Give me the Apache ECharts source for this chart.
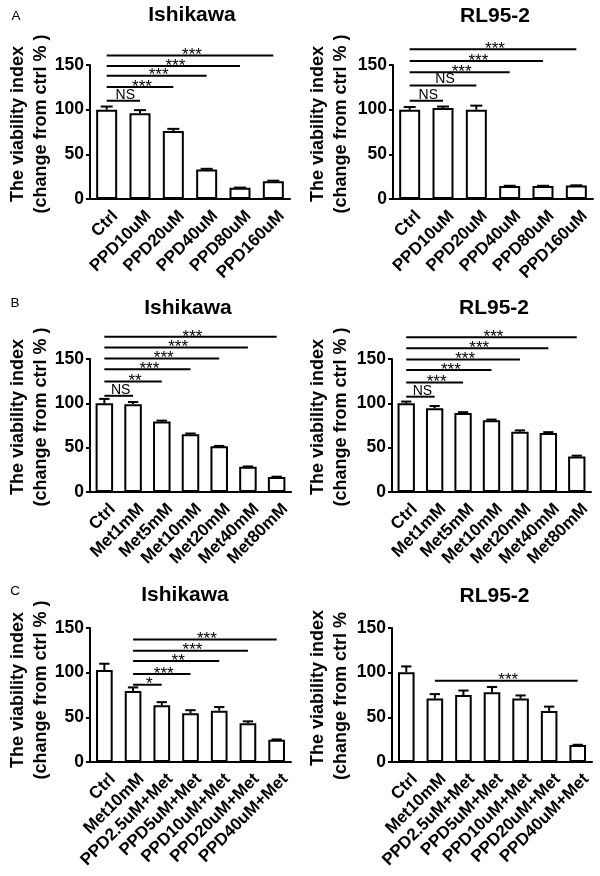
<!DOCTYPE html>
<html><head><meta charset="utf-8">
<script src="https://cdn.jsdelivr.net/npm/echarts@6/dist/echarts.min.js"></script>
<style>html,body{margin:0;padding:0;background:#fff}#c{width:600px;height:876px}</style>
</head><body><div id="c"></div>
<script>
// ---- categories ----
const catsA = ['Ctrl','PPD10uM','PPD20uM','PPD40uM','PPD80uM','PPD160uM'];
const catsB = ['Ctrl','Met1mM','Met5mM','Met10mM','Met20mM','Met40mM','Met80mM'];
const catsC = ['Ctrl','Met10mM','PPD2.5uM+Met','PPD5uM+Met','PPD10uM+Met','PPD20uM+Met','PPD40uM+Met'];
// ---- values (mean, SEM) ----
const aIshMean = [100, 96, 76, 33, 12.5, 20];
const aIshErr  = [3.5, 3.5, 2.5, 0.8, 0.3, 0.5];
const aRlMean  = [100, 102, 100, 14.5, 14.5, 15];
const aRlErr   = [3, 1.5, 4.5, 0.3, 0.3, 0.3];
const bIshMean = [100, 99, 79.5, 65, 51.5, 28.5, 17];
const bIshErr  = [5, 2.5, 1, 1, 0.5, 0.3, 0.3];
const bRlMean  = [100, 94.5, 89, 81, 68, 66.5, 40];
const bRlErr   = [2, 2.5, 1, 0.7, 1.5, 1, 1];
const cIshMean = [103, 79.5, 63.5, 54.5, 57.5, 43.5, 25];
const cIshErr  = [7, 4, 3.5, 3.5, 4, 2, 0.3];
const cRlMean  = [100.5, 71, 75, 78, 71, 57, 19];
const cRlErr   = [6.5, 5, 5, 6, 3.5, 5, 0.3];
// ---- significance brackets: [fromIndex, toIndex, yValue] + labels ----
const sigAIsh = [[0,1,110],[0,2,125.5],[0,3,138],[0,4,149],[0,5,160.5]];
const sigAIshLab = ['NS','***','***','***','***'];
const sigARl = [[0,1,110],[0,2,127],[0,3,142],[0,4,154.5],[0,5,167.5]];
const sigARlLab = ['NS','NS','***','***','***'];
const sigBIsh = [[0,1,108.5],[0,2,124.5],[0,3,138.5],[0,4,150.5],[0,5,163],[0,6,175]];
const sigBIshLab = ['NS','**','***','***','***','***'];
const sigBRl = [[0,1,107.5],[0,2,123.5],[0,3,137.5],[0,4,149.5],[0,5,162],[0,6,174.5]];
const sigBRlLab = ['NS','***','***','***','***','***'];
const sigCIsh = [[1,2,86.5],[1,3,98.5],[1,4,113],[1,5,124.5],[1,6,137]];
const sigCIshLab = ['*','***','**','***','***'];
const sigCRl = [[1,6,91]];
const sigCRlLab = ['***'];
// ---- axis ticks ----
const yMin = 0, yMax = 150, yStep = 50;

const FONT = "'Liberation Sans', Arial, sans-serif";

const panels = [
  {cats: catsA, mean: aIshMean, err: aIshErr, sig: sigAIsh, lab: sigAIshLab, grid: {left: 90, top: 65, width: 200, height: 134}, bw: '63%'},
  {cats: catsA, mean: aRlMean, err: aRlErr, sig: sigARl, lab: sigARlLab, grid: {left: 393, top: 65, width: 200, height: 134}, bw: '63%'},
  {cats: catsB, mean: bIshMean, err: bIshErr, sig: sigBIsh, lab: sigBIshLab, grid: {left: 90, top: 359, width: 201, height: 133}, bw: '61%'},
  {cats: catsB, mean: bRlMean, err: bRlErr, sig: sigBRl, lab: sigBRlLab, grid: {left: 392, top: 359, width: 199, height: 133}, bw: '61%'},
  {cats: catsC, mean: cIshMean, err: cIshErr, sig: sigCIsh, lab: sigCIshLab, grid: {left: 90, top: 628, width: 201, height: 134}, bw: '58%'},
  {cats: catsC, mean: cRlMean, err: cRlErr, sig: sigCRl, lab: sigCRlLab, grid: {left: 392, top: 628, width: 200, height: 134}, bw: '58%'}
];

const grids = [], xAxes = [], yAxes = [], series = [];
panels.forEach((p, k) => {
  grids.push(Object.assign({containLabel: false}, p.grid));
  xAxes.push({
    type: 'category', gridIndex: k, data: p.cats,
    axisLine: {lineStyle: {color: '#000', width: 2}},
    axisTick: {alignWithLabel: true, length: 5, lineStyle: {color: '#000', width: 2}},
    axisLabel: {interval: 0, rotate: 45, color: '#000', fontFamily: FONT, fontWeight: 'bold', fontSize: 17,
      margin: 6, verticalAlign: 'top', lineHeight: 24}
  });
  yAxes.push({
    type: 'value', gridIndex: k, min: yMin, max: yMax, interval: yStep,
    splitLine: {show: false},
    axisLine: {show: true, lineStyle: {color: '#000', width: 2}},
    axisTick: {show: true, length: 4, lineStyle: {color: '#000', width: 2}},
    axisLabel: {color: '#000', fontFamily: FONT, fontWeight: 'bold', fontSize: 17.5, margin: 6}
  });
  series.push({
    type: 'bar', xAxisIndex: k, yAxisIndex: k, data: p.mean, barWidth: p.bw,
    itemStyle: {color: '#fff', borderColor: '#000', borderWidth: 2}, animation: false
  });
  series.push({
    type: 'custom', xAxisIndex: k, yAxisIndex: k, z: 5, animation: false,
    data: p.mean.map((m, i) => [i, m, p.err[i]]),
    encode: {x: 0, y: 1},
    renderItem: (params, api) => {
      const x = api.value(0), m = api.value(1), e = api.value(2);
      const base = api.coord([x, m]), top = api.coord([x, m + e]);
      const hw = api.size([1, 0])[0] * 0.18;
      return {type: 'group', children: [
        {type: 'line', shape: {x1: base[0], y1: base[1], x2: top[0], y2: top[1]}, style: {stroke: '#000', lineWidth: 2}},
        {type: 'line', shape: {x1: top[0] - hw, y1: top[1], x2: top[0] + hw, y2: top[1]}, style: {stroke: '#000', lineWidth: 2}}
      ]};
    }
  });
  series.push({
    type: 'custom', xAxisIndex: k, yAxisIndex: k, z: 6, animation: false, clip: false,
    data: p.sig, encode: {x: [0, 1], y: 2},
    renderItem: (params, api) => {
      const a = api.coord([api.value(0), api.value(2)]);
      const b = api.coord([api.value(1), api.value(2)]);
      const t = p.lab[params.dataIndex];
      const isStar = t.indexOf('*') >= 0;
      return {type: 'group', children: [
        {type: 'line', shape: {x1: a[0], y1: a[1], x2: b[0], y2: b[1]}, style: {stroke: '#000', lineWidth: 2}},
        {type: 'text', x: (a[0] + b[0]) / 2 + 2, y: isStar ? a[1] : a[1] + 1,
          style: {text: t, fill: '#000', font: (isStar ? '17px ' : '14px ') + FONT,
            align: 'center', verticalAlign: isStar ? 'middle' : 'bottom'}}
      ]};
    }
  });
});

const yName = 'The viability index\n(change from ctrl % )';
const graphics = [];
function addText(text, x, y, font, extra) {
  graphics.push(Object.assign({type: 'text', x: x, y: y, style: Object.assign({text: text, fill: '#000', font: font, align: 'center', verticalAlign: 'middle'}, extra && extra.style || {})}, extra && extra.el || {}));
}
// panel letters
addText('A', 16, 16, '13.5px ' + FONT);
addText('B', 15, 303.5, '13.5px ' + FONT);
addText('C', 15, 591.5, '13.5px ' + FONT);
// titles
addText('Ishikawa', 192, 15, 'bold 21px ' + FONT);
addText('RL95-2', 495, 16, 'bold 21px ' + FONT);
addText('Ishikawa', 188, 308, 'bold 21px ' + FONT);
addText('RL95-2', 494, 308, 'bold 21px ' + FONT);
addText('Ishikawa', 185, 595, 'bold 21px ' + FONT);
addText('RL95-2', 494.5, 596, 'bold 21px ' + FONT);
// y-axis names
const yCenters = [[30, 124], [330, 124], [30, 417], [330, 417], [30, 690]];
yCenters.forEach((c) => {
  addText(yName, c[0], c[1], 'bold 18px ' + FONT, {style: {lineHeight: 23}, el: {rotation: Math.PI / 2}});
});
// C right panel: second line is cut at its top in the original figure
addText('The viability index', 18.5 + 300, 688, 'bold 18px ' + FONT, {el: {rotation: Math.PI / 2}});
addText('(change from ctrl %', 41.5 + 300, 696, 'bold 18px ' + FONT, {el: {rotation: Math.PI / 2}});

const chart = echarts.init(document.getElementById('c'), null, {renderer: 'canvas'});
chart.setOption({
  animation: false,
  backgroundColor: '#fff',
  grid: grids, xAxis: xAxes, yAxis: yAxes, series: series, graphic: graphics
});
</script></body></html>
